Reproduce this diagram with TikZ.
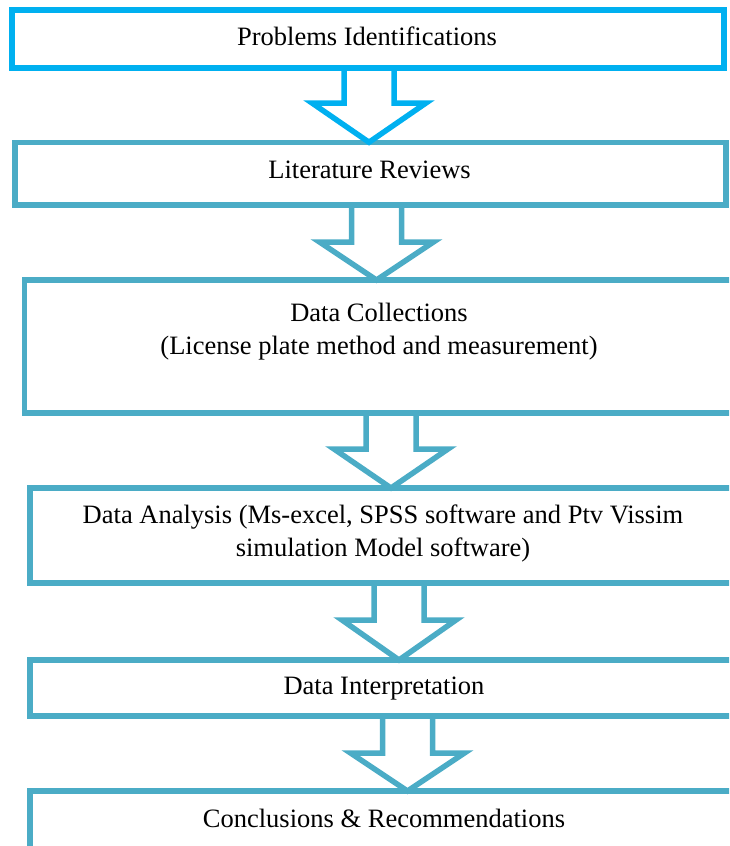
\documentclass[tikz,border=0pt]{standalone}
\usepackage{fontspec}
\setmainfont{Liberation Serif}
\usetikzlibrary{calc}
\definecolor{brightcyan}{HTML}{00B0F0}
\definecolor{tealblue}{HTML}{4BACC6}
\tikzset{
  boxshape/.style={draw=tealblue, line width=5.5pt, rectangle, outer sep=0pt, inner sep=0pt},
  lbl/.style={font=\fontsize{26.5}{33}\selectfont, anchor=base, align=center, inner sep=0pt},
  blockarrow/.style={draw=tealblue, line width=5.5pt, miter limit=10},
}
% #1 = colour, #2 = centre x, #3 = source node, #4 = target node, #5 = y of head top
\newcommand{\myblockarrow}[5][tealblue]{%
  \draw[blockarrow, draw=#1]
    (#2-25,0 |- #3.south) -- (#2-25,#5) -- (#2-57,#5) -- (#2,0 |- #4.north)
    -- (#2+57,#5) -- (#2+25,#5) -- (#2+25,0 |- #3.south);
}
\begin{document}
\begin{tikzpicture}[x=1pt,y=-1pt]
\useasboundingbox (0,0) rectangle (729,846);
\clip (0,0) rectangle (729,846);
% boxes (centre lines)
\node[boxshape, draw=brightcyan, minimum width=712pt, minimum height=58pt] (b1) at (368,39) {};
\node[boxshape, minimum width=711pt, minimum height=62.5pt] (b2) at (370.5,173.5) {};
\node[boxshape, minimum width=736pt, minimum height=133pt] (b3) at (392.5,346.5) {};
\node[boxshape, minimum width=730pt, minimum height=95pt] (b4) at (395,535.5) {};
\node[boxshape, minimum width=730pt, minimum height=56pt] (b5) at (395,688) {};
\node[boxshape, minimum width=730pt, minimum height=110pt] (b6) at (395,846) {};
% texts
\node[lbl] (t1) at (367,45.7) {Problems Identifications};
\node[lbl] (t2) at (369.5,178) {Literature Reviews};
\node[lbl] (t3) at (379,354) {Data Collections\\(License plate method and measurement)};
\node[lbl] (t4) at (383,556) {Data Analysis (Ms-excel, SPSS software and Ptv Vissim\\simulation Model software)};
\node[lbl] (t5) at (384,694) {Data Interpretation};
\node[lbl] (t6) at (384,827) {Conclusions \& Recommendations};
% block arrows
\myblockarrow[brightcyan]{369}{b1}{b2}{103}
\myblockarrow{376.5}{b2}{b3}{242}
\myblockarrow{391}{b3}{b4}{449}
\myblockarrow{399}{b4}{b5}{620}
\myblockarrow{407.5}{b5}{b6}{753}
\end{tikzpicture}
\end{document}
